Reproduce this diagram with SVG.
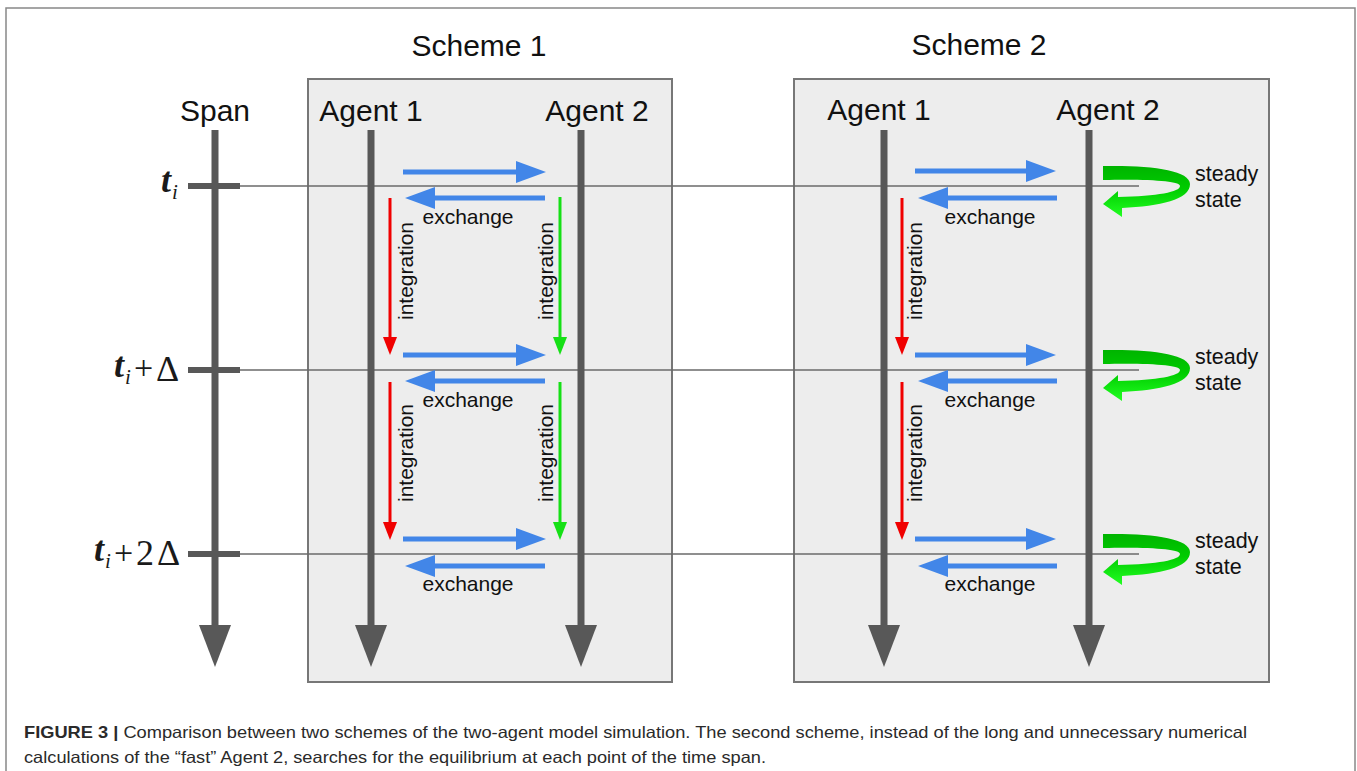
<svg xmlns="http://www.w3.org/2000/svg" width="1357" height="771" viewBox="0 0 1357 771">
<style>
.box{fill:#ededed;stroke:#777;stroke-width:2}
.axis{stroke:#585858;stroke-width:7;fill:none}
.hl{stroke:#6a6a6a;stroke-width:1.6;fill:none}
.blue{stroke:#4286e8;stroke-width:5;fill:none}
.red{stroke:#f00000;stroke-width:3;fill:none}
.green{stroke:#16e016;stroke-width:3;fill:none}
.title{font-family:"Liberation Sans",Arial,sans-serif;font-size:30px;fill:#111;text-anchor:middle}
.lbl{font-family:"Liberation Sans",Arial,sans-serif;font-size:21px;fill:#111}
.ss{font-family:"Liberation Sans",Arial,sans-serif;font-size:21.5px;fill:#111}
.tm{font-family:"Liberation Serif","Times New Roman",serif;fill:#1a1a1a}
.cap{font-family:"Liberation Sans",Arial,sans-serif;font-size:16.5px;fill:#2a2a2a}
</style>
<defs>
<marker id="hBlue" markerUnits="userSpaceOnUse" markerWidth="32" markerHeight="24" refX="2" refY="11" orient="auto"><path d="M0,0 L30,11 L0,22 z" fill="#4286e8"/></marker>
<marker id="hRed" markerUnits="userSpaceOnUse" markerWidth="20" markerHeight="16" refX="1" refY="7" orient="auto"><path d="M0,0 L18,7 L0,14 z" fill="#f00000"/></marker>
<marker id="hGreen" markerUnits="userSpaceOnUse" markerWidth="20" markerHeight="16" refX="1" refY="7" orient="auto"><path d="M0,0 L18,7 L0,14 z" fill="#16e016"/></marker>
<marker id="hGray" markerUnits="userSpaceOnUse" markerWidth="44" markerHeight="34" refX="2" refY="16" orient="auto"><path d="M0,0 L42,16 L0,32 z" fill="#585858"/></marker>
<linearGradient id="gss" x1="0" y1="0" x2="0" y2="1">
<stop offset="0" stop-color="#00b400"/><stop offset="0.45" stop-color="#00cc00"/><stop offset="1" stop-color="#22ff22"/>
</linearGradient>
<path id="ssArrow" d="M1103,166 C1150,165 1190,170 1190,184 C1190,200 1160,206 1122,208 L1122,217 L1103,204 L1118,191 L1118,197 C1158,196 1180,192 1180,186 C1180,181 1150,179 1103,180 Z" fill="url(#gss)"/>
</defs>
<rect x="6" y="8" width="1349" height="800" fill="#fff" stroke="#888" stroke-width="1.5"/>
<g id="scheme1">
<rect class="box" x="308" y="79" width="364" height="603"/>
<text class="title" x="479" y="56">Scheme 1</text>
</g>
<g id="scheme2">
<rect class="box" x="794" y="79" width="475" height="603"/>
<text class="title" x="979" y="55">Scheme 2</text>
</g>
<g id="timelines">
<line class="hl" x1="240" y1="186" x2="1139" y2="186"/>
<line class="hl" x1="240" y1="370" x2="1139" y2="370"/>
<line class="hl" x1="240" y1="554" x2="1139" y2="554"/>
</g>
<g id="span">
<text class="title" x="215" y="121">Span</text>
<line class="axis" x1="215" y1="130" x2="215" y2="627" marker-end="url(#hGray)"/>
<rect x="188" y="183" width="52" height="6" fill="#585858"/>
<rect x="188" y="367" width="52" height="6" fill="#585858"/>
<rect x="188" y="551" width="52" height="6" fill="#585858"/>
<text class="tm" font-style="italic" font-weight="bold" font-size="36" x="161" y="192">t</text><text class="tm" font-style="italic" font-size="21" x="172" y="199">i</text>
<text class="tm" font-style="italic" font-weight="bold" font-size="36" x="114" y="377">t</text><text class="tm" font-style="italic" font-size="21" x="125" y="384">i</text><text class="tm" font-size="34" x="134" y="379">+</text><text class="tm" font-size="36" x="156" y="381">Δ</text>
<text class="tm" font-style="italic" font-weight="bold" font-size="36" x="94" y="561">t</text><text class="tm" font-style="italic" font-size="21" x="105" y="568">i</text><text class="tm" font-size="34" x="114" y="564">+</text><text class="tm" font-size="36" x="136" y="565">2</text><text class="tm" font-size="36" x="157" y="565">Δ</text>
</g>
<g id="s1-agent1">
<text class="title" x="371" y="121">Agent 1</text>
<line class="axis" x1="371" y1="130" x2="371" y2="627" marker-end="url(#hGray)"/>
</g>
<g id="s1-agent2">
<text class="title" x="597" y="121">Agent 2</text>
<line class="axis" x1="581" y1="130" x2="581" y2="627" marker-end="url(#hGray)"/>
</g>
<g id="s2-agent1">
<text class="title" x="879" y="120">Agent 1</text>
<line class="axis" x1="884" y1="130" x2="884" y2="627" marker-end="url(#hGray)"/>
</g>
<g id="s2-agent2">
<text class="title" x="1108" y="120">Agent 2</text>
<line class="axis" x1="1089" y1="130" x2="1089" y2="627" marker-end="url(#hGray)"/>
</g>
<g id="connectors">
<line class="blue" x1="403" y1="172" x2="518" y2="172" marker-end="url(#hBlue)"/>
<line class="blue" x1="545" y1="198" x2="433" y2="198" marker-end="url(#hBlue)"/>
<line class="blue" x1="403" y1="355" x2="518" y2="355" marker-end="url(#hBlue)"/>
<line class="blue" x1="545" y1="381" x2="433" y2="381" marker-end="url(#hBlue)"/>
<line class="blue" x1="403" y1="539" x2="518" y2="539" marker-end="url(#hBlue)"/>
<line class="blue" x1="545" y1="566" x2="433" y2="566" marker-end="url(#hBlue)"/>
<line class="blue" x1="915" y1="171" x2="1028" y2="171" marker-end="url(#hBlue)"/>
<line class="blue" x1="1057" y1="198" x2="946" y2="198" marker-end="url(#hBlue)"/>
<line class="blue" x1="915" y1="355" x2="1028" y2="355" marker-end="url(#hBlue)"/>
<line class="blue" x1="1057" y1="381" x2="946" y2="381" marker-end="url(#hBlue)"/>
<line class="blue" x1="915" y1="539" x2="1028" y2="539" marker-end="url(#hBlue)"/>
<line class="blue" x1="1057" y1="566" x2="946" y2="566" marker-end="url(#hBlue)"/>
<line class="red" x1="390" y1="198" x2="390" y2="338" marker-end="url(#hRed)"/>
<line class="red" x1="390" y1="382" x2="390" y2="523" marker-end="url(#hRed)"/>
<line class="green" x1="560" y1="197" x2="560" y2="338" marker-end="url(#hGreen)"/>
<line class="green" x1="560" y1="382" x2="560" y2="523" marker-end="url(#hGreen)"/>
<line class="red" x1="902" y1="198" x2="902" y2="338" marker-end="url(#hRed)"/>
<line class="red" x1="902" y1="382" x2="902" y2="523" marker-end="url(#hRed)"/>
<use href="#ssArrow"/>
<use href="#ssArrow" transform="translate(0,184)"/>
<use href="#ssArrow" transform="translate(0,368)"/>
</g>
<g id="labels">
<text class="lbl" x="468" y="224" text-anchor="middle">exchange</text>
<text class="lbl" x="468" y="407" text-anchor="middle">exchange</text>
<text class="lbl" x="468" y="591" text-anchor="middle">exchange</text>
<text class="lbl" x="990" y="224" text-anchor="middle">exchange</text>
<text class="lbl" x="990" y="407" text-anchor="middle">exchange</text>
<text class="lbl" x="990" y="591" text-anchor="middle">exchange</text>
<text class="lbl" text-anchor="middle" transform="translate(413,271) rotate(-90)">integration</text>
<text class="lbl" text-anchor="middle" transform="translate(413,453) rotate(-90)">integration</text>
<text class="lbl" text-anchor="middle" transform="translate(553,271) rotate(-90)">integration</text>
<text class="lbl" text-anchor="middle" transform="translate(553,453) rotate(-90)">integration</text>
<text class="lbl" text-anchor="middle" transform="translate(922,271) rotate(-90)">integration</text>
<text class="lbl" text-anchor="middle" transform="translate(922,453) rotate(-90)">integration</text>
<text class="ss" x="1195" y="181">steady</text><text class="ss" x="1195" y="207">state</text>
<text class="ss" x="1195" y="364">steady</text><text class="ss" x="1195" y="390">state</text>
<text class="ss" x="1195" y="548">steady</text><text class="ss" x="1195" y="574">state</text>
</g>
<g id="caption">
<text class="cap" x="24" y="738" textLength="1223" lengthAdjust="spacingAndGlyphs"><tspan font-weight="bold">FIGURE 3 |</tspan> Comparison between two schemes of the two-agent model simulation. The second scheme, instead of the long and unnecessary numerical</text>
<text class="cap" x="24" y="763" textLength="742" lengthAdjust="spacingAndGlyphs">calculations of the “fast” Agent 2, searches for the equilibrium at each point of the time span.</text>
</g>
</svg>
